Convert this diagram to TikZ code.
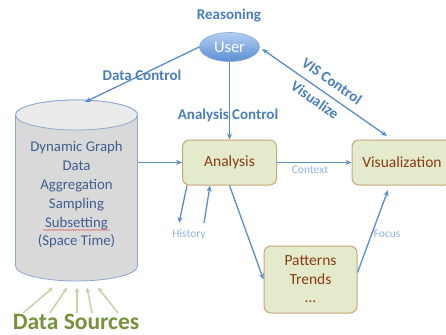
\documentclass[tikz,border=0pt]{standalone}
\usepackage{fontspec}
\setmainfont{Carlito}
\usetikzlibrary{arrows.meta,shapes.geometric,decorations.pathmorphing,calc}
\definecolor{arrowblue}{HTML}{5B8CC8}
\definecolor{lblblue}{HTML}{4A7EBB}
\definecolor{lightlbl}{HTML}{8DB3E2}
\definecolor{boxfill}{HTML}{E3EBCC}
\definecolor{boxdraw}{HTML}{C9A57A}
\definecolor{boxtext}{HTML}{8A3B12}
\definecolor{cyltext}{HTML}{3F5D8F}
\definecolor{cylfill}{HTML}{D9D9D9}
\definecolor{cyltop}{HTML}{EBEBEB}
\definecolor{cyldraw}{HTML}{8AA8CF}
\definecolor{srcgreen}{HTML}{76923C}
\definecolor{srcarrow}{HTML}{C9D3AC}
\definecolor{usertop}{HTML}{B4CEF2}
\definecolor{userbot}{HTML}{5A8ED3}
\definecolor{userdraw}{HTML}{8AAAD8}
\definecolor{squig}{HTML}{E04040}
\begin{document}
\begin{tikzpicture}[x=1pt,y=-1pt,
  arr/.style={draw=arrowblue, line width=1.3pt, -{Stealth[length=6pt,width=5pt]}},
  srcarr/.style={draw=srcarrow, line width=1.6pt, -{Stealth[length=5pt,width=5pt]}},
  boldlbl/.style={text=lblblue, font=\bfseries\fontsize{15}{17}\selectfont, inner sep=1pt},
  smalllbl/.style={text=lightlbl, font=\fontsize{11.5}{13}\selectfont, inner sep=1pt},
  stagebox/.style={draw=boxdraw, line width=1pt, fill=boxfill, rounded corners=7pt,
    text=boxtext, font=\fontsize{15.5}{18}\selectfont, align=center, inner sep=2pt},
]
\useasboundingbox (0,0) rectangle (446,334);

% cylinder
\path[fill=cylfill, draw=cyldraw, line width=0.8pt]
  (15.5,115) -- (15.5,266) arc[start angle=180, end angle=360, x radius=61pt, y radius=15pt]
  -- (137.5,115) arc[start angle=0, end angle=180, x radius=61pt, y radius=15pt] -- cycle;
\path[fill=cyltop, draw=cyldraw, line width=0.8pt] (76.5,115) ellipse [x radius=61pt, y radius=15pt];
\node[minimum width=122pt, minimum height=181pt, inner sep=0pt] (db) at (76.5,190.5) {};
\node[text=cyltext, align=center, font=\fontsize{14.8}{18.8}\selectfont] (dbtext) at (76.5,195)
  {Dynamic Graph\\Data\\Aggregation\\Sampling\\Subsetting\\(Space Time)};
\draw[squig, line width=0.4pt, decorate, decoration={snake, amplitude=0.45pt, segment length=2.2pt}]
  (43,230) -- (110,230);

% user
\node[ellipse, draw=userdraw, line width=0.6pt, top color=usertop, bottom color=userbot,
  minimum width=60pt, minimum height=29pt, text=white, font=\fontsize{16.4}{18}\selectfont,
  inner sep=0pt] (user) at (229.5,47) {User};
\node[boldlbl] (reason) at (229,16) {Reasoning};

% boxes
\node[stagebox, minimum width=94pt, minimum height=45pt] (analysis) at (229.5,162.5) {Analysis};
\node[stagebox, minimum width=100pt, minimum height=45pt] (vis) at (402,162.5) {Visualization};
\node[stagebox, minimum width=93pt, minimum height=67pt, font=\fontsize{15.5}{18.5}\selectfont]
  (pat) at (310.5,279.5) {Patterns\\Trends\\…};

% coordinates
\coordinate (dbtop) at (85,102);
\coordinate (visin) at (387,136);
\coordinate (userin) at (262,49);
\coordinate (hout) at (179,223);
\coordinate (hin) at (204,223);
\coordinate (focusend) at (388,190);

% connectors
\draw[arr] (user.west) -- (dbtop);
\draw[arr] (user.south) -- (analysis.north);
\draw[arr, {Stealth[length=6pt,width=5pt]}-{Stealth[length=6pt,width=5pt]}] (userin) -- (visin);
\draw[arr] (db.east |- analysis.west) -- (analysis.west);
\draw[arr] (analysis.east) -- (vis.west);
\draw[arr] ($(analysis.south west)+(5,0)$) -- (hout);
\draw[arr] (hin) -- ($(analysis.south west)+(28,0)$);
\draw[arr] (analysis.south) -- (pat.west);
\draw[arr] ($(pat.east)+(0,-7)$) -- (focusend);

% labels
\node[boldlbl] (dclbl) at (142,75) {Data Control};
\node[boldlbl] (aclbl) at (228,115) {Analysis Control};
\node[boldlbl, rotate=-35] (vclbl) at (332,81) {VIS Control};
\node[boldlbl, rotate=-35] (vzlbl) at (315,100) {Visualize};
\node[smalllbl] (ctx) at (310,170) {Context};
\node[smalllbl] (hist) at (189,234) {History};
\node[smalllbl] (focus) at (387,234) {Focus};

% data sources
\foreach \i/\sx/\tx in {1/23/53, 2/50/67, 3/77/77, 4/92/87, 5/118/98} {
  \coordinate (s\i) at (\sx,313);
  \coordinate (t\i) at (\tx,287.5);
  \draw[srcarr] (s\i) -- (t\i);
}
\node[text=srcgreen, font=\bfseries\fontsize{23.5}{26}\selectfont, inner sep=0pt] (src) at (76,322) {Data Sources};
\end{tikzpicture}
\end{document}
